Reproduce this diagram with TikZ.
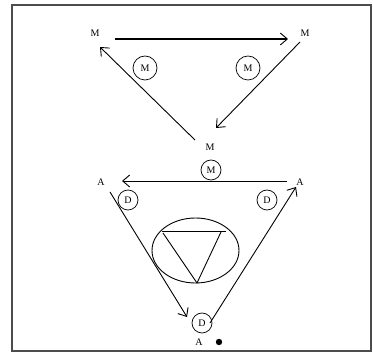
\documentclass[tikz,border=0pt]{standalone}
\usepackage{fontspec}
\setmainfont{Liberation Serif}
\usetikzlibrary{arrows.meta}

\tikzset{
  lbl/.style={inner sep=0pt, font=\normalsize},
  circ/.style={draw, circle, inner sep=0.6pt, minimum size=20pt, font=\normalsize, line width=0.7pt},
  bigcirc/.style={circ, minimum size=24pt},
  arr/.style={line width=0.9pt, -{Straight Barb[length=7pt,width=12pt,line width=0.9pt]}}
}

\begin{document}
\begin{tikzpicture}[x=1pt,y=-1pt]
        \useasboundingbox (0,0) rectangle (373,358);
        % \draw[help lines, gray!50, very thin] (0,0) grid[step=20] (373,358);

        % frame
        \draw[line width=1.2pt, black!70] (12,5) rectangle (371,351);

        % upper triangle
        \node[lbl] (mtl) at (95,33) {M};
        \node[lbl] (mtr) at (305,33) {M};
        \node[lbl] (mbot) at (210,147) {M};
        \node[bigcirc] (cm1) at (145,68) {M};
        \node[bigcirc] (cm2) at (248,68) {M};

        \coordinate (t1) at (115,39);
        \coordinate (t2) at (288,39);
        \coordinate (t3) at (300,42);
        \coordinate (t4) at (216,128);
        \coordinate (t5) at (195,140);
        \coordinate (t6) at (100,47);
        \draw[arr, line width=1.4pt] (t1) -- (t2);
        \draw[arr] (t3) -- (t4);
        \draw[arr] (t5) -- (t6);

        % lower triangle
        \node[circ] (cm3) at (211,170) {M};
        \node[lbl] (al) at (101,182) {A};
        \node[lbl] (ar) at (300,182) {A};
        \node[circ] (cd1) at (128,200) {D};
        \node[circ] (cd2) at (267,200) {D};
        \node[circ] (cd3) at (202,323) {D};
        \node[lbl] (abot) at (199,342) {A};
        \fill (219,342) circle (3.2pt);

        \coordinate (b1) at (287,181);
        \coordinate (b2) at (122,181);
        \coordinate (b3) at (110,192);
        \coordinate (b4) at (187,317);
        \coordinate (b5) at (210,323);
        \coordinate (b6) at (296,187);
        \draw[arr] (b1) -- (b2);
        \draw[arr] (b3) -- (b4);
        \draw[arr] (b5) -- (b6);

        % ellipse with triangle
        \draw[line width=0.9pt] (195.5,250.5) ellipse (43.5 and 32.5);
        \draw[line width=0.9pt] (162,231) -- (226,231);
        \draw[line width=0.9pt] (163,233) -- (197,283) -- (221,232);
      \end{tikzpicture}
\end{document}
